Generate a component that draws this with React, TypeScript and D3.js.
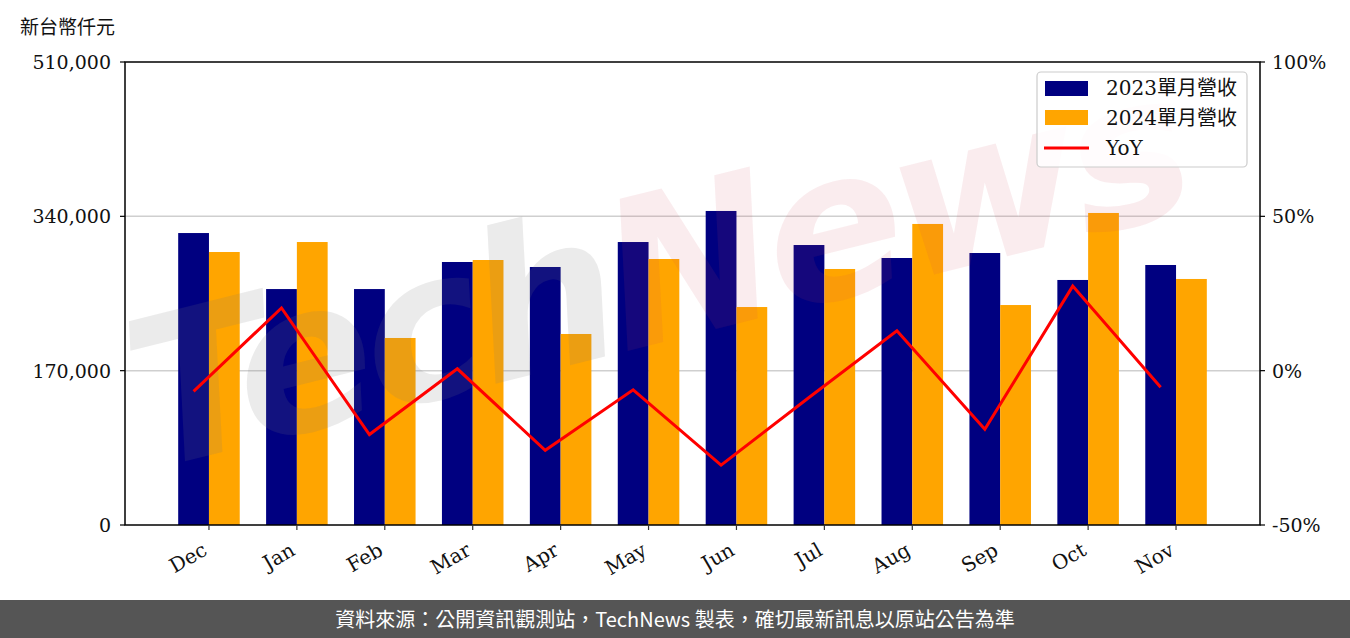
import React from "react";
import * as d3 from "d3";

const months = ["Dec", "Jan", "Feb", "Mar", "Apr", "May", "Jun", "Jul", "Aug", "Sep", "Oct", "Nov"];
const rev2023 = [321600, 259900, 259900, 289700, 284200, 311700, 345900, 308400, 294100, 299600, 269900, 286400];
const rev2024 = [300700, 311700, 206000, 291900, 210400, 293000, 240100, 282000, 331600, 242300, 343700, 271000];
const yoy = [-6.7, 20.3, -20.7, 0.6, -25.8, -6.2, -30.6, -8.7, 12.9, -19.0, 27.4, -5.4];
const leftTicks = [0, 170000, 340000, 510000];
const rightTicks = [-50, 0, 50, 100];
const legendLabels = ["2023單月營收", "2024單月營收", "YoY"];

const W = 1350;
const H = 638;
const L = 125, R = 1260, T = 62, B = 525;
const serif = "'DejaVu Serif', 'Noto Sans CJK TC', serif";
const cjk = "'Noto Sans CJK TC', 'Noto Sans', sans-serif";

export default function App() {
  const x = d3.scaleLinear().domain([-0.955, 11.955]).range([L, R]);
  const yL = d3.scaleLinear().domain([0, 510000]).range([B, T]);
  const yR = d3.scaleLinear().domain([-50, 100]).range([B, T]);
  const bw = 0.35;
  const line = d3
    .line<number>()
    .x((_, i) => x(i - bw / 2))
    .y((d) => yR(d));
  const fmt = d3.format(",");

  return (
    <svg width={W} height={H} style={{ position: "absolute", left: 0, top: 0, background: "#fff" }}>
      <rect x={0} y={0} width={W} height={H} fill="#fff" />
      <text x={20} y={34} fontFamily={cjk} fontSize={19} fill="#111">新台幣仟元</text>
      {leftTicks.slice(1, 3).map((t) => (
        <line key={t} x1={L} x2={R} y1={yL(t)} y2={yL(t)} stroke="#cfcfcf" strokeWidth={1.5} />
      ))}
      {months.map((m, i) => (
        <g key={m}>
          <rect x={x(i - bw)} y={yL(rev2023[i])} width={x(bw) - x(0)} height={B - yL(rev2023[i])} fill="#000080" />
          <rect x={x(i)} y={yL(rev2024[i])} width={x(bw) - x(0)} height={B - yL(rev2024[i])} fill="#FFA500" />
        </g>
      ))}
      <text
        transform="translate(150,470) rotate(-14)"
        fontFamily="'DejaVu Sans', sans-serif"
        fontWeight="bold"
        fontStyle="italic"
        fontSize={205}
        letterSpacing={-8}
      >
        <tspan fill="rgb(120,120,120)" fillOpacity={0.15}>Tech</tspan>
        <tspan fill="rgb(210,70,90)" fillOpacity={0.1}>News</tspan>
      </text>
      <path d={line(yoy) || ""} fill="none" stroke="#ff0000" strokeWidth={3} strokeLinejoin="miter" />
      <rect x={L} y={T} width={R - L} height={B - T} fill="none" stroke="#000" strokeWidth={1.5} />
      {leftTicks.map((t) => (
        <g key={t}>
          <line x1={L - 5} x2={L} y1={yL(t)} y2={yL(t)} stroke="#000" strokeWidth={1.2} />
          <text x={L - 14} y={yL(t)} dy="0.36em" textAnchor="end" fontFamily={serif} fontSize={19} fill="#111">
            {fmt(t)}
          </text>
        </g>
      ))}
      {rightTicks.map((t) => (
        <g key={t}>
          <line x1={R} x2={R + 5} y1={yR(t)} y2={yR(t)} stroke="#000" strokeWidth={1.2} />
          <text x={R + 12} y={yR(t)} dy="0.36em" textAnchor="start" fontFamily={serif} fontSize={19} fill="#111">
            {t + "%"}
          </text>
        </g>
      ))}
      {months.map((m, i) => (
        <g key={m}>
          <line x1={x(i)} x2={x(i)} y1={B} y2={B + 5} stroke="#333" strokeWidth={1.2} />
          <text
            transform={`translate(${x(i) - 8},${B + 16}) rotate(-30)`}
            textAnchor="end"
            dy="0.75em"
            fontFamily={serif}
            fontSize={20}
            fill="#111"
          >
            {m}
          </text>
        </g>
      ))}
      <g>
        <rect x={1037} y={72} width={210} height={95} rx={4} fill="#fff" fillOpacity={0.85} stroke="#cccccc" strokeWidth={1.2} />
        <rect x={1045} y={81} width={43} height={15} fill="#000080" />
        <rect x={1045} y={110} width={43} height={15} fill="#FFA500" />
        <line x1={1044} x2={1089} y1={148} y2={148} stroke="#ff0000" strokeWidth={3} />
        {legendLabels.map((l, i) => (
          <text key={l} x={1106} y={88 + i * 30} dy="0.36em" fontFamily={serif} fontSize={20} fill="#111">
            {l}
          </text>
        ))}
      </g>
      <rect x={0} y={600} width={W} height={38} fill="#555555" />
      <text x={W / 2} y={620} dy="0.36em" textAnchor="middle" fontFamily={cjk} fontSize={20} fill="#fff">
        資料來源：公開資訊觀測站，TechNews 製表，確切最新訊息以原站公告為準
      </text>
    </svg>
  );
}
